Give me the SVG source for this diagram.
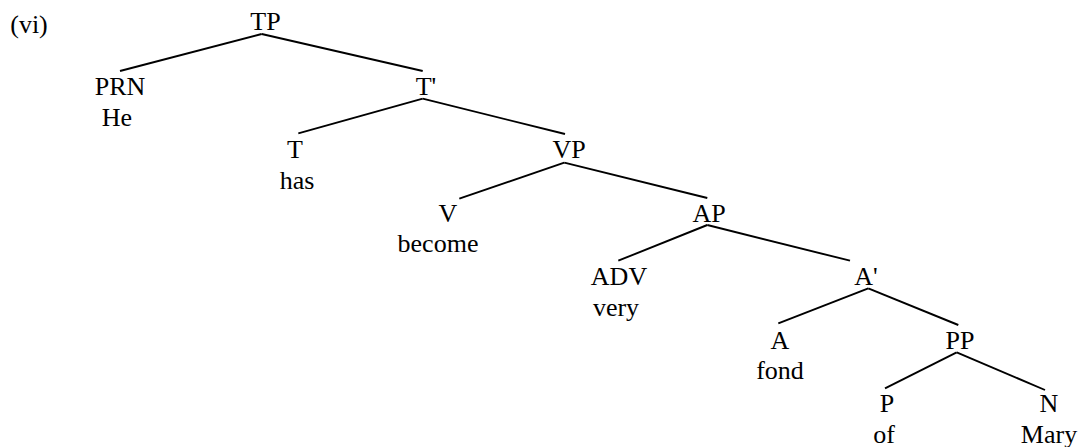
<svg xmlns="http://www.w3.org/2000/svg" width="1081" height="447" viewBox="0 0 1081 447">
<style>
text{font-family:"Liberation Serif","Times New Roman",serif;font-size:26px;fill:#000;text-anchor:middle}
.l{stroke:#000;stroke-width:1.9;fill:none;stroke-linecap:butt}
</style>
<rect width="1081" height="447" fill="#fff"/>
<text x="29" y="33">(vi)</text>
<g id="connectors">
<line class="l" x1="261.7" y1="34" x2="120" y2="71"/>
<line class="l" x1="261.7" y1="34" x2="422.7" y2="71"/>
<line class="l" x1="422.7" y1="98.7" x2="298.3" y2="133.3"/>
<line class="l" x1="422.7" y1="98.7" x2="565" y2="134"/>
<line class="l" x1="564.3" y1="162.7" x2="459.3" y2="198.7"/>
<line class="l" x1="564.3" y1="162.7" x2="707.3" y2="198"/>
<line class="l" x1="707.3" y1="225" x2="618.3" y2="260.7"/>
<line class="l" x1="707.3" y1="225" x2="850" y2="260.7"/>
<line class="l" x1="868.3" y1="288.3" x2="778.3" y2="323.3"/>
<line class="l" x1="868.3" y1="288.3" x2="958.3" y2="325"/>
<line class="l" x1="956.7" y1="352.3" x2="885" y2="388.3"/>
<line class="l" x1="956.7" y1="352.3" x2="1045" y2="390"/>
</g>
<g id="TP"><text x="265.5" y="30">TP</text></g>
<g id="PRN"><text x="120" y="94.5">PRN</text><text x="117" y="126">He</text></g>
<g id="Tbar"><text x="426" y="94.5">T'</text></g>
<g id="T"><text x="295" y="158">T</text><text x="297" y="189">has</text></g>
<g id="VP"><text x="569" y="158">VP</text></g>
<g id="V"><text x="448" y="221.5">V</text><text x="438" y="252">become</text></g>
<g id="AP"><text x="709" y="221.5">AP</text></g>
<g id="ADV"><text x="619" y="285">ADV</text><text x="616" y="316">very</text></g>
<g id="Abar"><text x="866" y="285">A'</text></g>
<g id="A"><text x="780" y="348.5">A</text><text x="780" y="379">fond</text></g>
<g id="PP"><text x="960" y="348.5">PP</text></g>
<g id="P"><text x="887" y="412">P</text><text x="884" y="443">of</text></g>
<g id="N"><text x="1049" y="412">N</text><text x="1049" y="443">Mary</text></g>
</svg>
